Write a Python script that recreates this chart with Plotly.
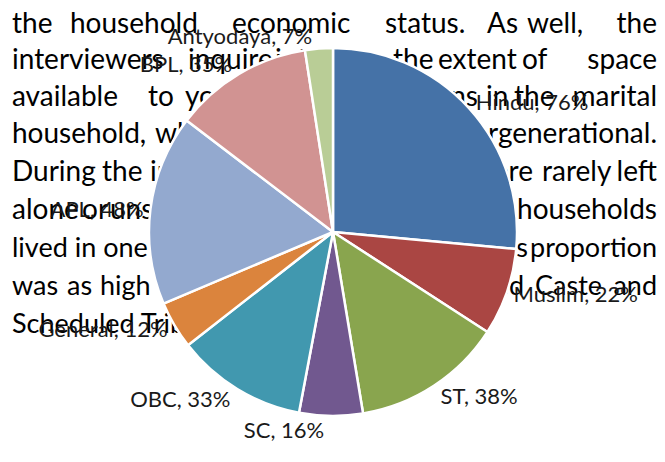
import plotly.graph_objects as go

# ---- chart data ----
categories = ["Hindu", "Muslim", "ST", "SC", "OBC", "General", "APL", "BPL", "Antyodaya"]
percent_values = [76, 22, 38, 16, 33, 12, 48, 35, 7]
slice_colors = ["#4572A7", "#AA4643", "#89A54E", "#71588F", "#4198AF",
                "#DB843D", "#93A9CF", "#D19392", "#B9CD96"]

# ---- background document text (decoration behind the chart) ----
# each line: (y, size, [(word, x, anchor)])  anchor 'r' = starts at x, 'l' = ends at x
doc_lines = [
    (26, 28, [("the", 12, "r"), ("household", 70, "r"), ("economic", 232, "r"),
              ("status.", 385, "r"), ("As", 487, "r"), ("well,", 527, "r"), ("the", 657, "l")]),
    (62, 28, [("interviewers", 12, "r"), ("inquire", 188, "r"), ("into", 275, "r"),
              ("the", 393, "r"), ("extent", 438, "r"), ("of", 522, "r"), ("space", 657, "l")]),
    (99, 28, [("available", 12, "r"), ("to", 148, "r"), ("young", 185, "r"),
              ("persons", 478, "l"), ("in", 486, "r"), ("the", 514, "r"), ("marital", 657, "l")]),
    (136, 28, [("household,", 12, "r"), ("which", 155, "r"), ("was", 260, "r"),
               ("intergenerational.", 657, "l")]),
    (174, 28, [("During", 12, "r"), ("the", 102, "r"), ("interview,", 150, "r"),
               ("were", 533, "l"), ("rarely", 542, "r"), ("left", 657, "l")]),
    (212, 28, [("alone", 12, "r"), ("or", 82, "r"), ("unsupervised.", 110, "r"),
               ("households", 657, "l")]),
    (250, 27, [("lived in one-room homes;", 12, "r"), ("this", 528, "l"),
               ("proportion", 657, "l")]),
    (288, 27, [("was", 12, "r"), ("as", 67, "r"), ("high", 100, "r"), ("as", 165, "r"),
               ("Scheduled", 524, "l"), ("Caste", 535, "r"), ("and", 657, "l")]),
    (326, 27, [("Scheduled Tribe households.", 12, "r")]),
]

# page has an 8px body margin: the figure starts at (8, 8) in the window
OFF = 8
WIN_W, WIN_H = 665, 462
W, H = WIN_W - OFF, WIN_H - OFF

fig = go.Figure()

for y, size, words in doc_lines:
    for anchor, pos in (("r", "middle right"), ("l", "middle left")):
        sel = [w for w in words if w[2] == anchor]
        if not sel:
            continue
        fig.add_trace(go.Scatter(
            x=[w[1] for w in sel], y=[y] * len(sel), text=[w[0] for w in sel],
            mode="text", textposition=pos,
            textfont=dict(family="Lato", size=size, color="#000000"),
            hoverinfo="skip", showlegend=False, cliponaxis=False))

# pie placement in window pixels: centre (333, 232), radius 184
cx, cy, r = 333, 232, 184
fig.add_trace(go.Pie(
    labels=categories, values=percent_values,
    marker=dict(colors=slice_colors, line=dict(color="white", width=2.5)),
    sort=False, direction="clockwise", rotation=0,
    texttemplate="%{label}, %{value}%", textposition="outside",
    outsidetextfont=dict(family="Lato", size=22, color="#1a1a1a"),
    hoverinfo="label+value", showlegend=False,
    domain=dict(x=[(cx - r - OFF) / W, (cx + r - OFF) / W],
                y=[(H - (cy + r - OFF)) / H, (H - (cy - r - OFF)) / H]),
))

fig.update_layout(
    width=W, height=H, margin=dict(l=0, r=0, t=0, b=0),
    paper_bgcolor="white", plot_bgcolor="white", showlegend=False,
    xaxis=dict(range=[OFF, WIN_W], visible=False, fixedrange=True),
    yaxis=dict(range=[WIN_H, OFF], visible=False, fixedrange=True),
)

fig.write_html("out.html")
